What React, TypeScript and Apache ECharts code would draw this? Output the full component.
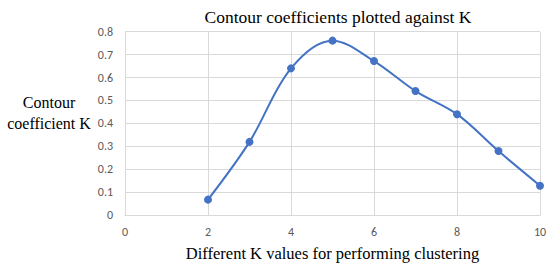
import React, { useEffect, useRef } from "react";
import * as echarts from "echarts";

const kValues = [2, 3, 4, 5, 6, 7, 8, 9, 10];
const coefficients = [0.067, 0.319, 0.64, 0.761, 0.672, 0.541, 0.44, 0.279, 0.128];
const titleText = "Contour coefficients plotted against K";
const xName = "Different K values for performing clustering";
const yNameLines = ["Contour", "coefficient K"];

export default function App() {
  const ref = useRef<HTMLDivElement>(null);
  useEffect(() => {
    document.body.style.margin = "0";
    const chart = echarts.init(ref.current!, undefined, { renderer: "svg" });
    const serif = "'Liberation Serif', 'Times New Roman', serif";
    const sans = "Carlito, 'Liberation Sans', Arial, sans-serif";
    chart.setOption({
      animation: false,
      backgroundColor: "#ffffff",
      title: {
        text: titleText,
        left: 333,
        textAlign: "center",
        top: 3,
        textStyle: { fontFamily: serif, fontSize: 17.5, fontWeight: "normal", color: "#000" },
      },
      graphic: [
        {
          type: "text",
          x: 49,
          y: 92,
          style: {
            text: yNameLines.join("\n"),
            font: "16px " + serif,
            fill: "#000",
            align: "center",
            verticalAlign: "top",
            lineHeight: 21,
          },
        },
      ],
      grid: { left: 125, right: 10, top: 31.7, bottom: 53, outerBoundsMode: "none", containLabel: false },
      xAxis: {
        type: "value",
        min: 0,
        max: 10,
        interval: 2,
        name: xName,
        nameLocation: "middle",
        nameGap: 30,
        nameTextStyle: { fontFamily: serif, fontSize: 16.5, color: "#000" },
        axisLine: { show: true, lineStyle: { color: "#d9d9d9" } },
        axisTick: { show: false },
        axisLabel: { fontFamily: sans, fontSize: 12, color: "#595959", margin: 11 },
        splitLine: { show: true, lineStyle: { color: "#d9d9d9" } },
      },
      yAxis: {
        type: "value",
        min: 0,
        max: 0.8,
        interval: 0.1,
        axisLine: { show: false },
        axisTick: { show: false },
        axisLabel: { fontFamily: sans, fontSize: 12, color: "#595959", margin: 12 },
        splitLine: { show: true, lineStyle: { color: "#d9d9d9" } },
      },
      series: [
        {
          type: "line",
          data: kValues.map((k, i) => [k, coefficients[i]]),
          smooth: 0.35,
          symbol: "circle",
          symbolSize: 8,
          lineStyle: { color: "#4472C4", width: 2 },
          itemStyle: { color: "#4472C4" },
        },
      ],
    });
    return () => chart.dispose();
  }, []);
  return <div ref={ref} style={{ width: 550, height: 268 }} />;
}
